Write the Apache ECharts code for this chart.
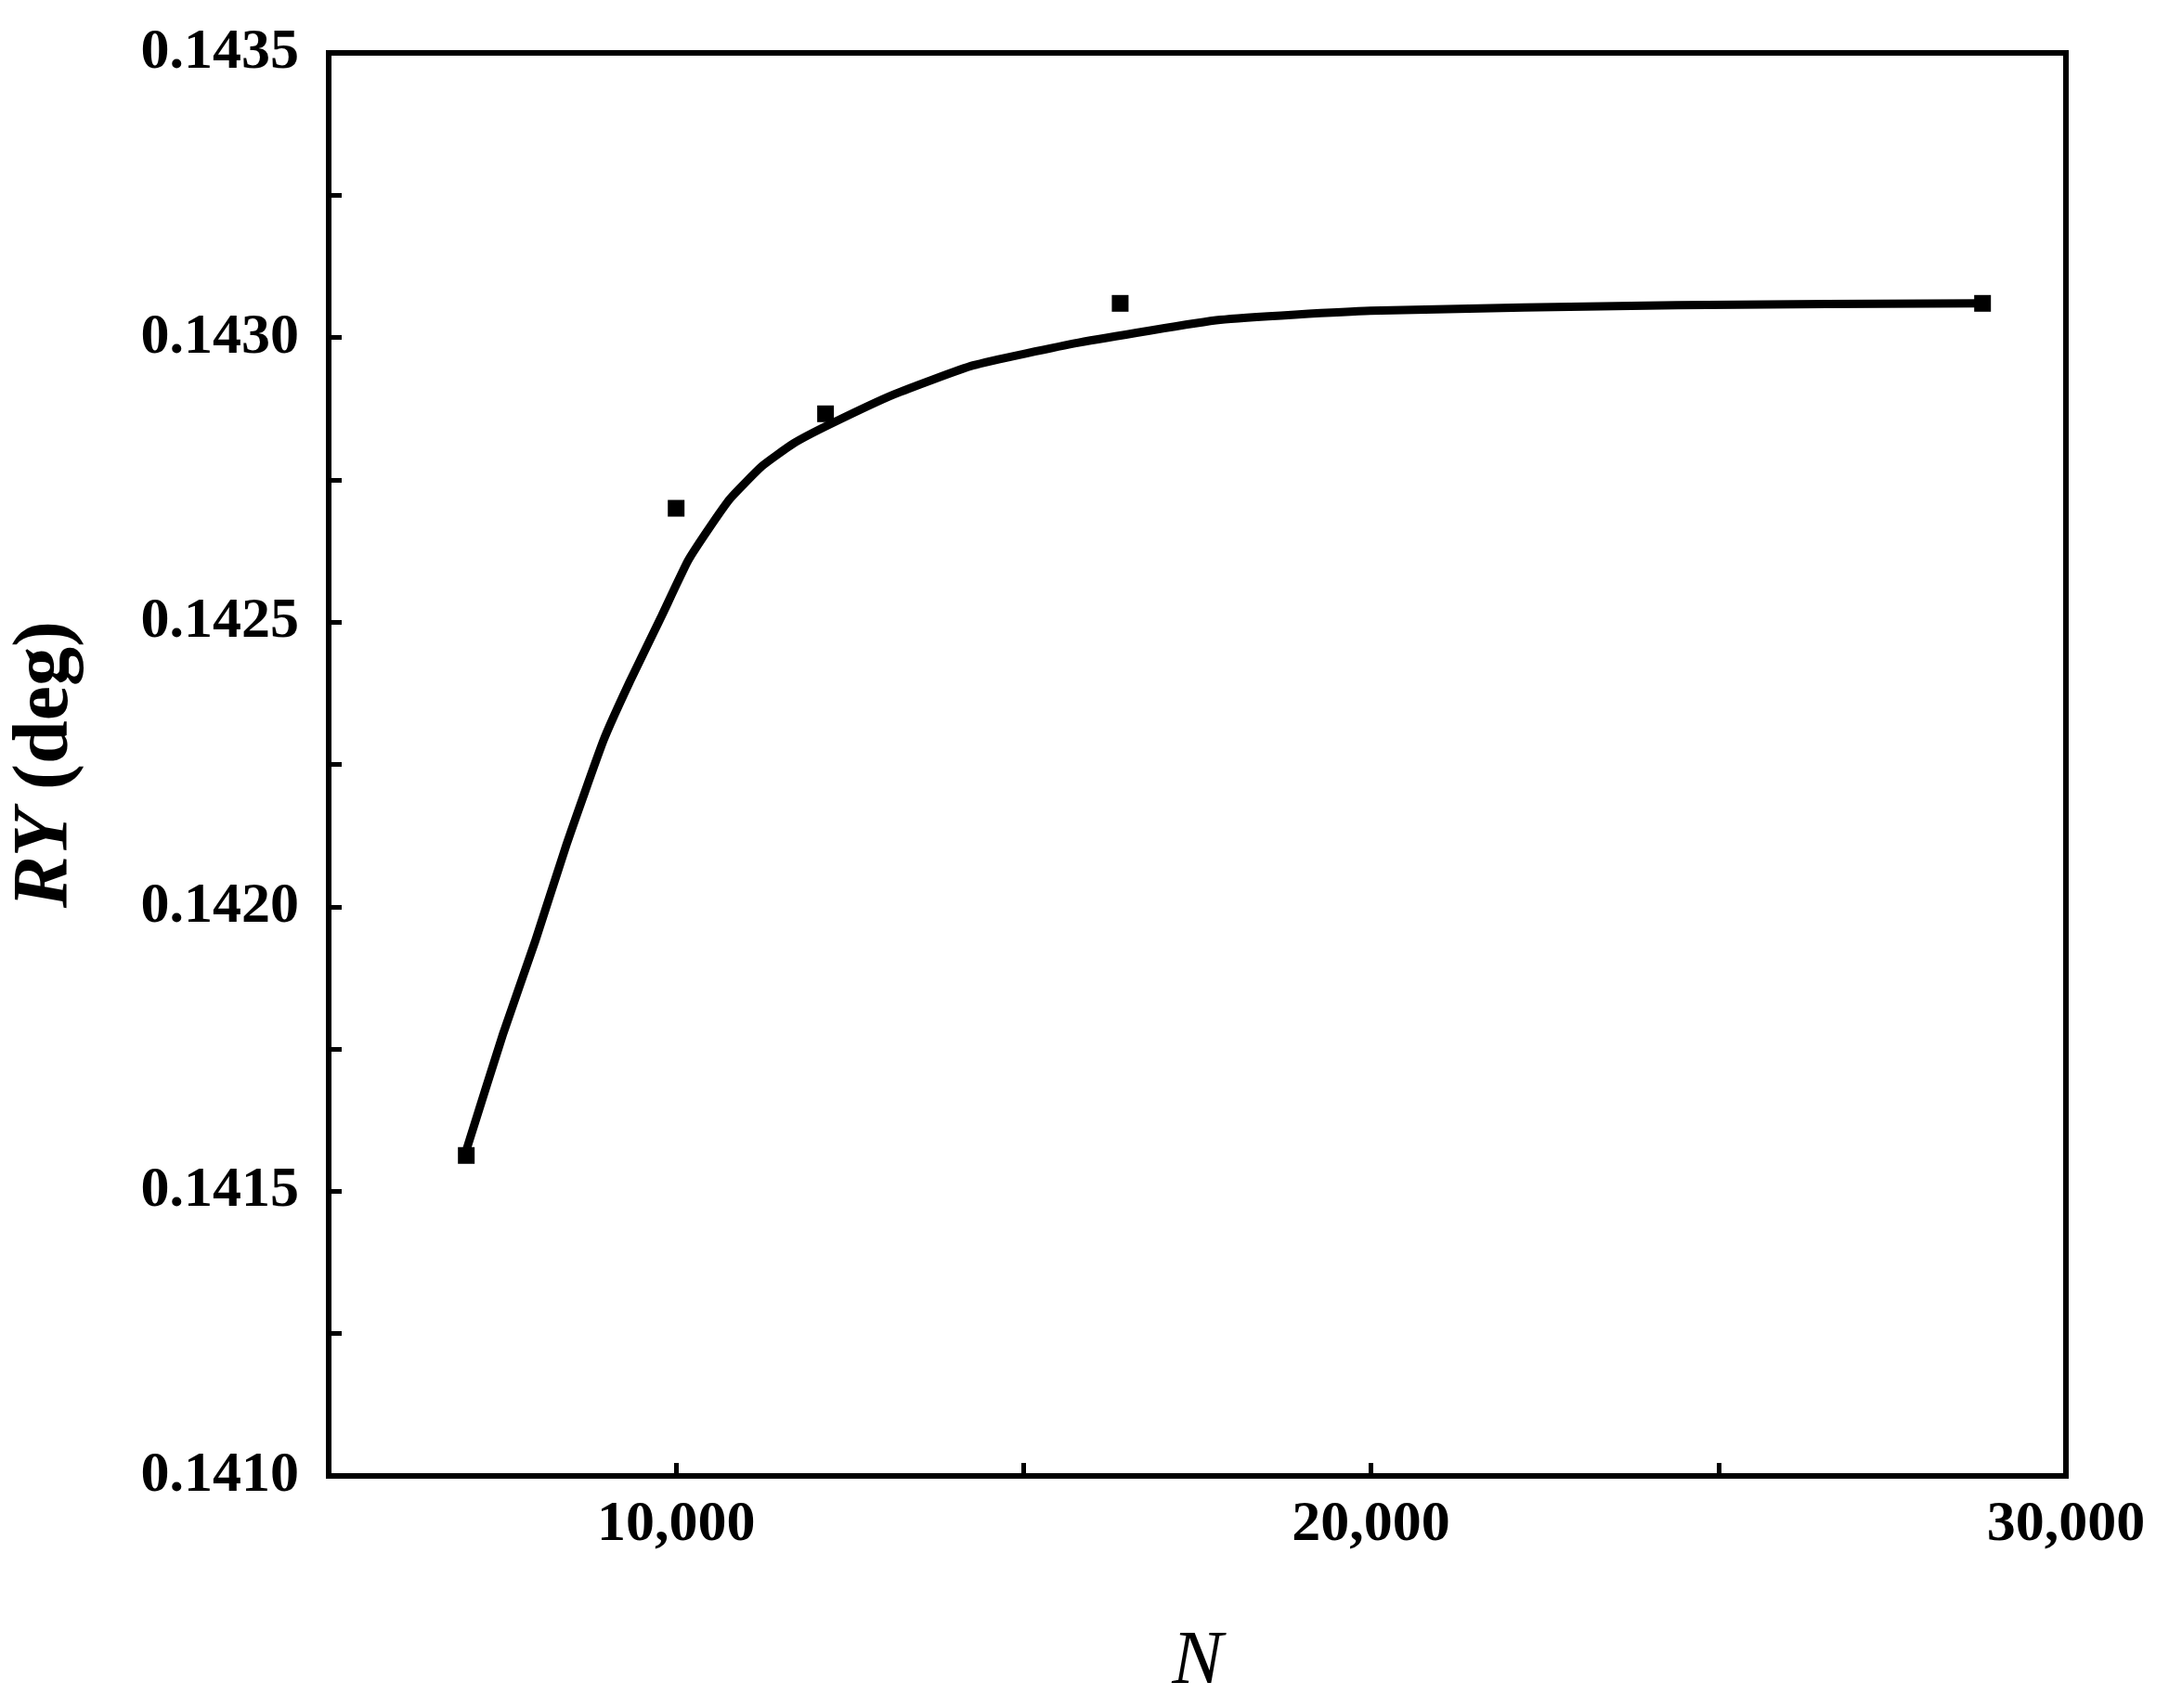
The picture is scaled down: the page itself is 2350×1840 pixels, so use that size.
<!DOCTYPE html>
<html><head><meta charset="utf-8">
<script src="https://cdn.jsdelivr.net/npm/echarts@6/dist/echarts.min.js"></script>
<style>html,body{margin:0;padding:0;background:#fff}#c{width:2350px;height:1840px}</style>
</head><body><div id="c"></div>
<script>
const pointsN = [6980, 10000, 12150, 16390, 28800];
const pointsRY = [0.141563, 0.14270, 0.142866, 0.14306, 0.14306];
const fitN = [6980, 7513, 7968, 8424, 8957, 9335, 9792, 10172, 10475, 10778, 11236, 11691, 12222, 13135, 14273, 15792, 17830, 19990, 24406, 28802];
const fitRY = [0.141572, 0.141778, 0.141938, 0.142110, 0.142293, 0.142396, 0.142511, 0.142608, 0.142665, 0.142717, 0.142774, 0.142814, 0.142848, 0.142900, 0.142951, 0.142991, 0.143031, 0.143047, 0.143057, 0.143060];
const font = '"Liberation Serif","Times New Roman",serif';
const chart = echarts.init(document.getElementById('c'));
chart.setOption({
  animation:false,
  grid:{left:330,right:125,top:57,bottom:250,show:true,borderColor:'#000',borderWidth:6,backgroundColor:'transparent'},
  xAxis:{type:'value',min:5000,max:30000,interval:5000,
    name:'N',nameLocation:'middle',nameGap:160,
    nameTextStyle:{fontFamily:font,fontSize:82,fontStyle:'italic',color:'#000'},
    axisLine:{lineStyle:{color:'#000',width:6}},
    axisTick:{inside:true,length:14,lineStyle:{width:5,color:'#000'}},
    axisLabel:{fontFamily:font,fontWeight:'bold',fontSize:62,color:'#000',margin:22,
      formatter:v=> v%10000===0 ? v.toLocaleString('en-US') : ''},
    splitLine:{show:false}},
  yAxis:{type:'value',min:0.1410,max:0.1435,interval:0.0005,
    name:'{i|RY} (deg)',nameLocation:'middle',nameGap:262,nameRotate:90,
    nameTextStyle:{fontFamily:font,fontSize:84,fontWeight:'bold',color:'#000',
      rich:{i:{fontFamily:font,fontSize:84,fontWeight:'bold',fontStyle:'italic',color:'#000'}}},
    axisLine:{lineStyle:{color:'#000',width:6}},
    axisTick:{inside:true,length:14,lineStyle:{width:5,color:'#000'}},
    minorTick:{show:true,splitNumber:2,length:14,lineStyle:{width:5,color:'#000'}},
    axisLabel:{fontFamily:font,fontWeight:'bold',fontSize:62,color:'#000',margin:32,
      formatter:v=>v.toFixed(4)},
    splitLine:{show:false}},
  series:[
    {type:'line',data:fitN.map((n,i)=>[n,fitRY[i]]),smooth:0.15,showSymbol:false,
     lineStyle:{color:'#000',width:9},z:2},
    {type:'scatter',data:pointsN.map((n,i)=>[n,pointsRY[i]]),symbol:'rect',symbolSize:18,
     itemStyle:{color:'#000',opacity:1},z:3}
  ]
});
</script></body></html>
